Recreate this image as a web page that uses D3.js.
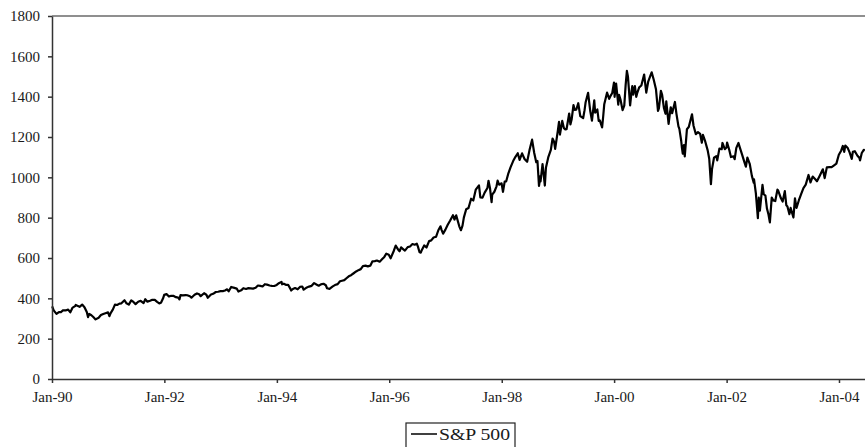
<!DOCTYPE html>
<html>
<head>
<meta charset="utf-8">
<script src="https://cdn.jsdelivr.net/npm/d3@7"></script>
<style>
  body { margin: 0; background: white; }
  svg { display: block; }
</style>
</head>
<body>
<svg id="chart"></svg>
<script>
// S&P 500 closes (roughly two or three per month)
var sp500 = [
  ["1990-01-02",359.7],["1990-01-12",340],["1990-01-30",322.9],["1990-02-15",332],["1990-02-28",331.9],
  ["1990-03-15",341],["1990-03-30",339.9],["1990-04-16",344],["1990-04-30",330.8],["1990-05-15",354],
  ["1990-05-31",361.2],["1990-06-04",367],["1990-06-15",362.9],["1990-06-29",358],["1990-07-16",368.9],
  ["1990-07-31",356.2],["1990-08-15",332],["1990-08-23",307],["1990-08-31",322.6],["1990-09-14",316],
  ["1990-09-28",306],["1990-10-11",295.5],["1990-10-31",304],["1990-11-15",317],["1990-11-30",322.2],
  ["1990-12-14",326],["1990-12-31",330.2],
  ["1991-01-09",311.5],["1991-01-17",327],["1991-01-31",343.9],["1991-02-14",369],["1991-02-28",367.1],
  ["1991-03-15",373.6],["1991-03-28",375.2],["1991-04-17",390.5],["1991-04-30",375.3],["1991-05-15",368.6],
  ["1991-05-31",389.8],["1991-06-14",382],["1991-06-28",371.2],["1991-07-15",383],["1991-07-31",387.8],
  ["1991-08-19",376],["1991-08-30",395.4],["1991-09-13",383.6],["1991-09-30",387.9],["1991-10-15",392.8],
  ["1991-10-31",392.5],["1991-11-15",382.6],["1991-11-29",375.2],["1991-12-10",377.9],["1991-12-23",399],
  ["1991-12-31",417.1],
  ["1992-01-15",420.8],["1992-01-31",408.8],["1992-02-14",412.5],["1992-02-28",412.7],["1992-03-16",405.8],
  ["1992-03-31",403.7],["1992-04-08",394.5],["1992-04-15",416.3],["1992-04-30",414.9],["1992-05-19",416.3],
  ["1992-05-29",415.4],["1992-06-15",410.3],["1992-06-25",403.1],["1992-07-15",417.5],["1992-07-31",424.2],
  ["1992-08-14",419.9],["1992-08-24",410.7],["1992-09-15",425.3],["1992-09-30",417.8],["1992-10-09",402.7],
  ["1992-10-30",418.7],["1992-11-13",422.4],["1992-11-30",431.4],["1992-12-15",432.8],["1992-12-31",435.7],
  ["1993-01-15",435.9],["1993-01-29",438.8],["1993-02-12",444.6],["1993-02-22",434.8],["1993-03-10",456.3],
  ["1993-03-31",451.7],["1993-04-15",448.4],["1993-04-26",433.5],["1993-05-14",439.6],["1993-05-28",450.2],
  ["1993-06-15",446.3],["1993-06-30",450.5],["1993-07-15",449.2],["1993-07-30",448.1],["1993-08-16",452.4],
  ["1993-08-31",463.6],["1993-09-15",461.6],["1993-09-30",458.9],["1993-10-15",470],["1993-10-29",467.8],
  ["1993-11-15",463.8],["1993-11-30",461.8],["1993-12-15",461.2],["1993-12-31",466.5],
  ["1994-01-14",474.9],["1994-01-31",481.6],["1994-02-04",469.8],["1994-02-15",472.5],["1994-02-28",467.1],
  ["1994-03-15",467.4],["1994-03-31",445.8],["1994-04-04",438.9],["1994-04-15",446.2],["1994-04-29",450.9],
  ["1994-05-16",444.5],["1994-05-31",456.5],["1994-06-15",458.6],["1994-06-24",442.8],["1994-07-15",454.2],
  ["1994-07-29",458.3],["1994-08-15",461.9],["1994-08-31",475.5],["1994-09-15",468.8],["1994-09-30",462.7],
  ["1994-10-14",469.1],["1994-10-31",472.4],["1994-11-15",465],["1994-11-23",449.9],["1994-12-09",446.9],
  ["1994-12-30",459.3],
  ["1995-01-13",465.7],["1995-01-31",470.4],["1995-02-15",484.5],["1995-02-28",487.4],["1995-03-15",490],
  ["1995-03-31",500.7],["1995-04-13",509.2],["1995-04-28",514.7],["1995-05-15",524.4],["1995-05-31",533.4],
  ["1995-06-15",539.8],["1995-06-30",544.8],["1995-07-14",560.3],["1995-07-31",562.1],["1995-08-15",558.6],
  ["1995-08-31",561.9],["1995-09-14",583.6],["1995-09-29",584.4],["1995-10-13",587.5],["1995-10-31",581.5],
  ["1995-11-15",593.3],["1995-11-30",605.4],["1995-12-13",621.7],["1995-12-29",615.9],
  ["1996-01-10",598.5],["1996-01-31",636],["1996-02-12",661.5],["1996-02-29",640.4],["1996-03-08",633.5],
  ["1996-03-18",652.7],["1996-03-29",645.5],["1996-04-12",636.7],["1996-04-30",654.2],["1996-05-15",656.9],
  ["1996-05-31",669.1],["1996-06-14",665.9],["1996-06-28",670.6],["1996-07-05",657.4],["1996-07-16",628.4],
  ["1996-07-24",626.7],["1996-07-31",639.9],["1996-08-15",662.3],["1996-08-30",651.9],["1996-09-16",683.9],
  ["1996-09-30",687.3],["1996-10-15",701.6],["1996-10-31",705.3],["1996-11-15",737.6],["1996-11-29",757],
  ["1996-12-06",739.6],["1996-12-16",720.9],["1996-12-31",740.7],
  ["1997-01-15",765],["1997-01-31",786.2],["1997-02-18",812.5],["1997-02-28",790.8],["1997-03-11",811.8],
  ["1997-03-31",757.1],["1997-04-11",737.7],["1997-04-21",760.4],["1997-04-30",801.3],["1997-05-15",841.9],
  ["1997-05-30",848.3],["1997-06-16",893.9],["1997-06-30",885.1],["1997-07-16",939],["1997-07-31",954.3],
  ["1997-08-06",960.3],["1997-08-15",900.8],["1997-08-29",899.5],["1997-09-12",923.9],["1997-09-30",947.3],
  ["1997-10-07",983.1],["1997-10-17",944.2],["1997-10-27",876.9],["1997-10-31",914.6],["1997-11-14",928.4],
  ["1997-11-28",955.4],["1997-12-05",983.8],["1997-12-15",963.4],["1997-12-31",970.4],
  ["1998-01-09",927.7],["1998-01-20",978.6],["1998-01-30",980.3],["1998-02-13",1020],["1998-02-27",1049.3],
  ["1998-03-16",1080.5],["1998-03-31",1101.8],["1998-04-15",1119.3],["1998-04-27",1086.5],["1998-05-13",1118.9],
  ["1998-05-29",1090.8],["1998-06-15",1077],["1998-06-30",1133.8],["1998-07-17",1186.8],["1998-07-31",1120.7],
  ["1998-08-13",1074.9],["1998-08-21",1081.2],["1998-08-31",957.3],["1998-09-09",1006.2],["1998-09-10",980.2],
  ["1998-09-23",1066.1],["1998-09-30",1017],["1998-10-08",959.4],["1998-10-15",1047.5],["1998-10-30",1098.7],
  ["1998-11-16",1135.8],["1998-11-27",1192.3],["1998-12-07",1176.7],["1998-12-14",1141.2],["1998-12-31",1229.2],
  ["1999-01-08",1275.1],["1999-01-14",1212.2],["1999-01-29",1279.6],["1999-02-09",1243.8],["1999-02-18",1237.3],
  ["1999-02-26",1238.3],["1999-03-15",1316.6],["1999-03-23",1262.1],["1999-03-31",1286.4],["1999-04-12",1358.6],
  ["1999-04-20",1334.5],["1999-04-30",1335.2],["1999-05-13",1367.6],["1999-05-26",1304],["1999-06-14",1294],
  ["1999-06-23",1333.1],["1999-06-30",1372.7],["1999-07-16",1418.8],["1999-07-30",1328.7],["1999-08-10",1281.4],
  ["1999-08-25",1381.8],["1999-08-31",1320.4],["1999-09-14",1336.3],["1999-09-23",1280.4],["1999-09-30",1282.7],
  ["1999-10-15",1247.4],["1999-10-22",1301.7],["1999-10-29",1362.9],["1999-11-16",1420],["1999-11-30",1388.9],
  ["1999-12-09",1403.9],["1999-12-20",1418.1],["1999-12-31",1469.3],
  ["2000-01-03",1455.2],["2000-01-04",1399.4],["2000-01-14",1465.2],["2000-01-28",1360.2],["2000-02-02",1409.1],
  ["2000-02-11",1387.1],["2000-02-25",1333.4],["2000-03-07",1355.6],["2000-03-16",1458.5],["2000-03-24",1527.5],
  ["2000-03-31",1498.6],["2000-04-14",1356.6],["2000-04-24",1429.9],["2000-04-28",1452.4],["2000-05-04",1409.6],
  ["2000-05-15",1452.4],["2000-05-24",1399.1],["2000-05-31",1420.6],["2000-06-12",1446],["2000-06-26",1455.3],
  ["2000-07-14",1509.9],["2000-07-28",1419.9],["2000-08-09",1472.9],["2000-08-25",1506.5],["2000-09-01",1520.8],
  ["2000-09-14",1484.9],["2000-09-29",1436.5],["2000-10-12",1329.8],["2000-10-18",1342.1],["2000-10-31",1429.4],
  ["2000-11-08",1409.3],["2000-11-20",1342.6],["2000-11-30",1315.2],["2000-12-05",1376.5],["2000-12-20",1264.7],
  ["2000-12-29",1320.3],
  ["2001-01-03",1347.6],["2001-01-12",1318.3],["2001-01-30",1373.7],["2001-02-09",1314.8],["2001-02-22",1252.8],
  ["2001-02-28",1239.9],["2001-03-12",1180.2],["2001-03-16",1150.5],["2001-03-22",1117.6],["2001-03-30",1160.3],
  ["2001-04-04",1103.3],["2001-04-18",1238.2],["2001-04-30",1249.5],["2001-05-21",1312.8],["2001-05-31",1255.8],
  ["2001-06-15",1214.4],["2001-06-29",1224.4],["2001-07-13",1215.7],["2001-07-24",1171.7],["2001-07-31",1211.2],
  ["2001-08-15",1178],["2001-08-31",1133.6],["2001-09-10",1092.5],["2001-09-21",965.8],["2001-09-28",1040.9],
  ["2001-10-11",1097.4],["2001-10-26",1104.6],["2001-11-01",1084.1],["2001-11-15",1142.2],["2001-11-30",1139.5],
  ["2001-12-05",1170.4],["2001-12-20",1139.9],["2001-12-31",1148.1],
  ["2002-01-04",1172.5],["2002-01-17",1138.9],["2002-01-29",1100.6],["2002-02-15",1104.2],["2002-02-22",1089.8],
  ["2002-03-05",1146.1],["2002-03-19",1170.3],["2002-03-28",1147.4],["2002-04-12",1111],["2002-04-26",1076.3],
  ["2002-05-06",1052.7],["2002-05-16",1098.2],["2002-05-31",1067.1],["2002-06-14",1007.3],["2002-06-26",973.5],
  ["2002-06-28",989.8],["2002-07-10",920.5],["2002-07-23",797.7],["2002-07-29",898.9],["2002-08-05",834.6],
  ["2002-08-22",962.7],["2002-08-30",916.1],["2002-09-10",909.6],["2002-09-20",845.4],["2002-09-30",815.3],
  ["2002-10-09",776.8],["2002-10-21",899.7],["2002-10-31",885.8],["2002-11-13",882.5],["2002-11-27",938.9],
  ["2002-12-02",934.5],["2002-12-20",895.8],["2002-12-31",879.8],
  ["2003-01-14",931.7],["2003-01-24",861.4],["2003-01-31",855.7],["2003-02-13",817.4],["2003-02-21",848.2],
  ["2003-03-11",800.7],["2003-03-21",895.8],["2003-03-31",848.2],["2003-04-15",885.2],["2003-04-30",916.9],
  ["2003-05-15",946.7],["2003-05-30",963.6],["2003-06-17",1011.7],["2003-06-30",974.5],["2003-07-14",1003.9],
  ["2003-07-31",990.3],["2003-08-11",980.6],["2003-08-29",1008],["2003-09-18",1039.6],["2003-09-30",996],
  ["2003-10-14",1049.5],["2003-10-31",1050.7],["2003-11-14",1050.4],["2003-11-28",1058.2],["2003-12-15",1068],
  ["2003-12-31",1111.9],
  ["2004-01-15",1132],["2004-01-26",1155.4],["2004-02-04",1126.5],["2004-02-11",1157.8],["2004-02-27",1144.9],
  ["2004-03-10",1123.9],["2004-03-24",1091.3],["2004-03-31",1126.2],["2004-04-13",1129.4],["2004-04-30",1107.3],
  ["2004-05-12",1097.3],["2004-05-17",1084.1],["2004-05-28",1120.7],["2004-06-10",1136.5],["2004-06-17",1133]
];

var yTicks = [0, 200, 400, 600, 800, 1000, 1200, 1400, 1600, 1800];
var xTickYears = [1990, 1992, 1994, 1996, 1998, 2000, 2002, 2004];
var seriesName = "S&P 500";

var width = 865, height = 447;
var parse = d3.timeParse("%Y-%m-%d");
var data = sp500.map(d => ({ date: parse(d[0]), value: d[1] }));

var svg = d3.select("#chart")
    .attr("width", width)
    .attr("height", height)
    .style("font-family", "'Liberation Serif', 'Times New Roman', serif");

var xScale = d3.scaleTime()
    .domain([new Date(1990, 0, 1), new Date(2004, 5, 18)])
    .range([52, 865]);

var yScale = d3.scaleLinear()
    .domain([0, 1800])
    .range([379, 16]);

// top border of plot area
svg.append("line")
    .attr("x1", 52).attr("x2", width)
    .attr("y1", 16).attr("y2", 16)
    .attr("stroke", "#6a6a6a")
    .attr("stroke-width", 1.5);

var line = d3.line()
    .x(d => xScale(d.date))
    .y(d => yScale(d.value));

svg.append("path")
    .datum(data)
    .attr("fill", "none")
    .attr("stroke", "#000")
    .attr("stroke-width", 2.2)
    .attr("stroke-linejoin", "round")
    .attr("d", line);

var yAxis = svg.append("g")
    .attr("transform", "translate(52,0)")
    .call(d3.axisLeft(yScale).tickValues(yTicks).tickFormat(d3.format("d"))
        .tickSize(4).tickPadding(8).tickSizeOuter(0));

var xAxis = svg.append("g")
    .attr("transform", "translate(0,379)")
    .call(d3.axisBottom(xScale)
        .tickValues(xTickYears.map(y => new Date(y, 0, 1)))
        .tickFormat(d3.timeFormat("%b-%y"))
        .tickSize(4).tickPadding(8).tickSizeOuter(0));

[yAxis, xAxis].forEach(g => {
    g.select(".domain").attr("stroke", "#333").attr("stroke-width", 1.5);
    g.selectAll(".tick line").attr("stroke", "#333").attr("stroke-width", 1.5);
    g.selectAll("text")
        .style("font-family", "'Liberation Serif', 'Times New Roman', serif")
        .style("font-size", "15px")
        .attr("fill", "#1a1a1a");
});

// legend
var legend = svg.append("g");
legend.append("rect")
    .attr("x", 406).attr("y", 423)
    .attr("width", 109).attr("height", 26)
    .attr("fill", "white")
    .attr("stroke", "#222")
    .attr("stroke-width", 1.2);
legend.append("line")
    .attr("x1", 411).attr("x2", 437)
    .attr("y1", 434).attr("y2", 434)
    .attr("stroke", "#000")
    .attr("stroke-width", 1.5);
legend.append("text")
    .attr("x", 439).attr("y", 440)
    .attr("textLength", 71)
    .attr("lengthAdjust", "spacingAndGlyphs")
    .style("font-size", "17px")
    .attr("fill", "#1a1a1a")
    .text(seriesName);
</script>
</body>
</html>
